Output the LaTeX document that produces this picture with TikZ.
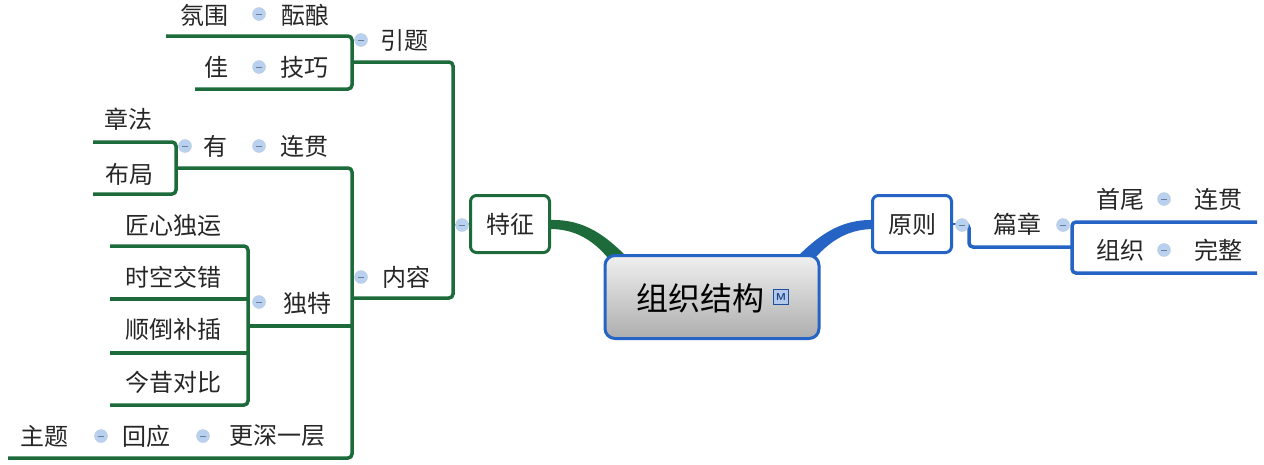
\documentclass[tikz,border=0pt]{standalone}
\usepackage{fontspec}
\newfontfamily\cjk{Noto Sans CJK SC}
\definecolor{mapgreen}{HTML}{1D6B3A}
\definecolor{mapblue}{HTML}{2563C4}
\definecolor{knobblue}{HTML}{B9D1F0}
\tikzset{
  topic/.style={font=\cjk\fontsize{24}{24}\selectfont, text=black!85, inner sep=0pt},
  knob/.style={circle, fill=knobblue, draw=knobblue!80!black!60, line width=0.4pt, minimum size=13pt, inner sep=0pt,
    path picture={\draw[knobblue!60!black, line width=0.8pt] ([xshift=-3pt]path picture bounding box.center) -- ([xshift=3pt]path picture bounding box.center);}},
  gline/.style={draw=mapgreen, line width=3.5pt, rounded corners=4pt},
  bline/.style={draw=mapblue, line width=3.5pt, rounded corners=4pt},
  mainbox/.style={draw=#1, line width=3pt, rounded corners=6pt, fill=white, minimum width=79pt, minimum height=57pt},
}
\begin{document}
\begin{tikzpicture}[x=1pt, y=-1pt]
  \useasboundingbox (0,0) rectangle (1264,464);
  % tapered links to the root
  \fill[mapgreen] (550,220) .. controls (585,219) and (606,236) .. (628,258) -- (608,258) .. controls (592,239) and (574,229) .. (550,229) -- cycle;
  \fill[mapblue] (874,220) .. controls (840,219) and (818,236) .. (796,258) -- (815,258) .. controls (832,239) and (850,229) .. (874,229) -- cycle;
  % root
  \node[draw=mapblue, line width=3pt, rounded corners=10pt, top color=black!6, bottom color=black!32,
        minimum width=214pt, minimum height=83pt] (root) at (712,297) {};
  \node[font=\cjk\fontsize{32}{32}\selectfont, inner sep=0pt] (rootlbl) at (700,298) {组织结构};
  \node[draw=mapblue!80!black, fill=mapblue!35, line width=0.8pt, minimum size=15pt, inner sep=0pt,
        font=\sffamily\bfseries\fontsize{10}{10}\selectfont, text=mapblue!70!black] (mark) at (781,297) {M};
  % main topics
  \node[mainbox=mapgreen, topic] (feat) at (510,224) {特征};
  \node[mainbox=mapblue, topic] (rule) at (912,224) {原则};
  % left side
  \coordinate (featin) at (453,225);
  \draw[mapgreen, line width=1.2pt] (feat.west) -- (featin);
  \node[knob] (kfeat) at (462,225) {};
  \draw[gline] (352,62) -- (453,62) -- (453,298) -- (352,298);
  \node[knob] (kintro) at (361,40) {};
  \node[topic] (intro) at (404,40) {引题};
  \draw[gline] (166,36) -- (352,36) -- (352,89) -- (195,89);
  \node[topic] (mood) at (204,15) {氛围};
  \node[knob] (kmood) at (259,14) {};
  \node[topic] (brew) at (305,15) {酝酿};
  \node[topic] (good) at (216,67) {佳};
  \node[knob] (kgood) at (259,67) {};
  \node[topic] (skill) at (304,67) {技巧};
  \node[knob] (kcont) at (361,277) {};
  \node[topic] (cont) at (406,277) {内容};
  \draw[gline] (176,168) -- (352,168) -- (352,458) -- (8,458);
  \draw[gline] (250,326) -- (352,326);
  \draw[gline] (93,142) -- (176,142) -- (176,194) -- (93,194);
  \node[topic] (law) at (128,119) {章法};
  \node[topic] (plan) at (129,174) {布局};
  \node[knob] (khave) at (185,146) {};
  \node[topic] (have) at (215,146) {有};
  \node[knob] (kflow) at (259,146) {};
  \node[topic] (flow) at (304,146) {连贯};
  \draw[gline] (110,246) -- (248,246) -- (248,405) -- (110,405);
  \draw[gline] (110,299) -- (248,299);
  \draw[gline] (110,353) -- (248,353);
  \foreach \y/\txt in {225/匠心独运, 277/时空交错, 329/顺倒补插, 382/今昔对比} {
    \node[topic] (art\y) at (173,\y) {\txt};
  }
  \node[knob] (kuniq) at (259,302) {};
  \node[topic] (uniq) at (307,303) {独特};
  \node[topic] (theme) at (44,436) {主题};
  \node[knob] (ktheme) at (101,436) {};
  \node[topic] (echo) at (146,436) {回应};
  \node[knob] (kecho) at (203,436) {};
  \node[topic] (deep) at (277,436) {更深一层};
  % right side
  \coordinate (rulein) at (962,224);
  \draw[mapblue, line width=1.2pt] (rule.east) -- (rulein);
  \draw[bline] (962,224) -- (969,224) -- (969,247) -- (1072,247);
  \node[knob] (krule) at (962,225) {};
  \node[topic] (text) at (1017,224) {篇章};
  \node[knob] (ktext) at (1063,225) {};
  \draw[bline] (1257,222) -- (1072,222) -- (1072,273) -- (1257,273);
  \node[topic] (ends) at (1120,199) {首尾};
  \node[knob] (kends) at (1164,199) {};
  \node[topic] (link) at (1218,199) {连贯};
  \node[topic] (org) at (1120,250) {组织};
  \node[knob] (korg) at (1164,250) {};
  \node[topic] (whole) at (1218,250) {完整};
\end{tikzpicture}
\end{document}
